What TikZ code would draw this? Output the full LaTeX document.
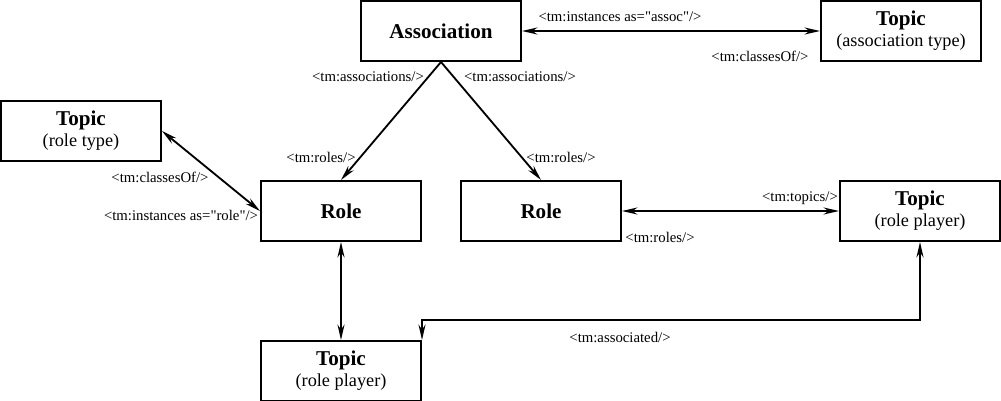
\documentclass[tikz,border=0pt]{standalone}
\usepackage{fontspec}
\setmainfont{Liberation Serif}
\usetikzlibrary{arrows.meta,positioning}
\newcommand{\boxtitle}{\fontsize{15}{15}\selectfont\bfseries}
\newcommand{\boxsub}{\fontsize{13}{15}\selectfont}
\newcommand{\qt}{\textquotedbl}
\tikzset{
    box/.style={draw, line width=1.4pt, minimum width=4cm, minimum height=1.5cm,
        inner sep=0pt, align=center, font=\fontsize{13}{15}\selectfont},
    lbl/.style={font=\fontsize{10.5}{12}\selectfont, inner sep=0pt}
}

\begin{document}
\begin{tikzpicture}[>={Stealth[length=11pt,width=5pt]}, x=0.025cm, y=-0.025cm, line width=1.3pt]
    \useasboundingbox (0,0) rectangle (1001,401);

    % Boxes
    \node[box] (assoc) at (441,31) {\boxtitle Association};
    \node[box] (assoctype) at (901,31) {{\boxtitle Topic}\\{\boxsub (association type)}};
    \node[box] (roletype) at (81,131) {{\boxtitle Topic}\\{\boxsub (role type)}};
    \node[box] (roleL) at (341,211) {\boxtitle Role};
    \node[box] (roleR) at (541,211) {\boxtitle Role};
    \node[box] (playerR) at (920,211) {{\boxtitle Topic}\\{\boxsub (role player)}};
    \node[box] (playerB) at (341,371) {{\boxtitle Topic}\\{\boxsub (role player)}};

    % Connectors
    \draw[<->] (assoc) -- (assoctype);
    \draw[->] (assoc.south) -- (roleL.north);
    \draw[->] (assoc.south) -- (roleR.north);
    \draw[<->] (roletype.east) -- (roleL.west);
    \draw[<->] (roleR) -- (playerR);
    \draw[<->] (roleL) -- (playerB);
    \draw[<->] (playerB.north east) -- ++(0,-20) -| (playerR.south);

    % Labels
    \node[lbl] (linstassoc) at (620,17) {<tm:instances as=\qt assoc\qt/>};
    \node[lbl] (lclassassoc) at (760,56) {<tm:classesOf/>};
    \node[lbl] (lassocL) at (368,77) {<tm:associations/>};
    \node[lbl] (lassocR) at (520,77) {<tm:associations/>};
    \node[lbl] (lrolesL) at (321,157) {<tm:roles/>};
    \node[lbl] (lrolesR) at (561,157) {<tm:roles/>};
    \node[lbl] (lclassrole) at (160,177) {<tm:classesOf/>};
    \node[lbl] (linstrole) at (181,215) {<tm:instances as=\qt role\qt/>};
    \node[lbl] (ltopics) at (800,198) {<tm:topics/>};
    \node[lbl] (lrolesP) at (660,237) {<tm:roles/>};
    \node[lbl] (lassociated) at (620,337) {<tm:associated/>};
\end{tikzpicture}
\end{document}
